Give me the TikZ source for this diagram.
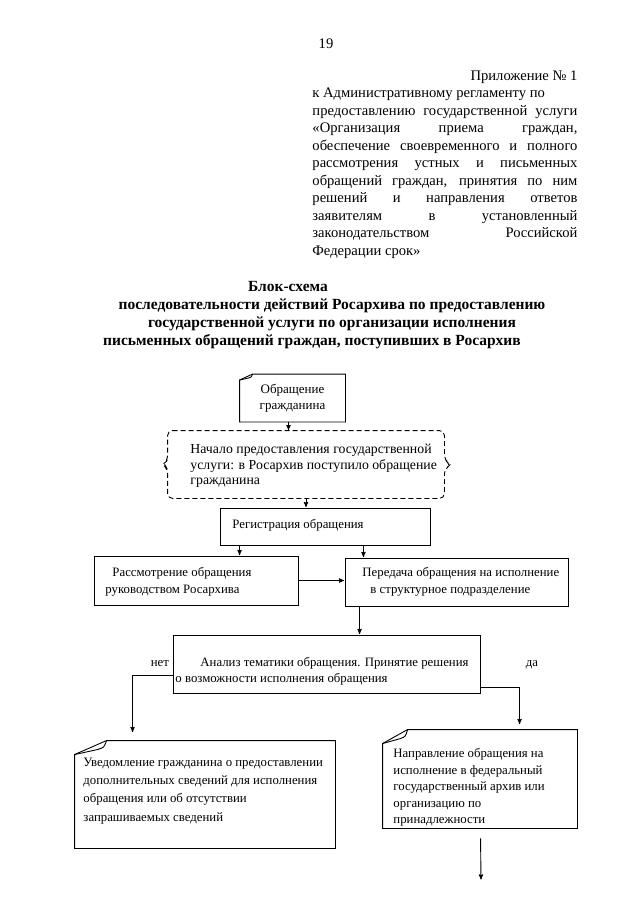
\documentclass[tikz,border=0pt]{standalone}
\usepackage{fontspec}
\setmainfont{Liberation Serif}
\usetikzlibrary{arrows,positioning,calc}
\setlength{\parindent}{0pt}
\hbadness=10000
\hyphenpenalty=10000

\newcommand{\headfont}{\fontsize{14.6}{17.5}\selectfont}
\newcommand{\titlefont}{\bfseries\fontsize{15.5}{18}\selectfont}
\newcommand{\boxfont}{\fontsize{12.8}{17}\selectfont}

% box with a folded top left corner: node, cut x, cut y
\newcommand{\notefold}[3]{%
  \draw (#1.south west) -- ([yshift=-#3]#1.north west)
        -- ([xshift=#2]#1.north west) -- (#1.north east)
        -- (#1.south east) -- cycle;
  \draw ([yshift=-#3]#1.north west)
        -- ([xshift=0.72*#2,yshift=-0.64*#3]#1.north west)
        .. controls ([xshift=0.92*#2,yshift=-0.5*#3]#1.north west)
        .. ([xshift=#2]#1.north west);
}

% dashed box with brace sides
\newcommand{\bracebox}[1]{%
  \draw[dash pattern=on 5pt off 3pt, rounded corners=5pt]
    (#1.north west) -- (#1.north east) -- ([yshift=4pt]#1.east)
    -- ([xshift=7pt]#1.east) -- ([yshift=-4pt]#1.east) -- (#1.south east)
    -- (#1.south west) -- ([yshift=-4pt]#1.west) -- ([xshift=-5pt]#1.west)
    -- ([yshift=4pt]#1.west) -- cycle;
}

\tikzset{
  box/.style={draw, rectangle, inner sep=0pt},
  hole/.style={rectangle, inner sep=0pt},
  txt/.style={anchor=north west, inner sep=0pt, align=left, font=\boxfont},
  link/.style={->, shorten >=0.5pt},
}

\begin{document}
\begin{tikzpicture}[x=1pt,y=-1pt,line width=0.9pt,>=stealth']
  \useasboundingbox (0,0) rectangle (640,905);

  % page head
  \node[anchor=base, font=\headfont] (page) at (326,48) {19};
  \node[anchor=north west, inner sep=0pt, text width=265pt, align=justify, font=\headfont] (prilozh) at (312,70)
    {\hspace*{\fill}Приложение №~1\newline
     к Административному регламенту по\newline
     предоставлению государственной услуги\linebreak
     «Организация приема граждан,\linebreak
     обеспечение своевременного и полного\linebreak
     рассмотрения устных и письменных\linebreak
     обращений граждан, принятия по ним\linebreak
     решений и направления ответов\linebreak
     заявителям в установленный\linebreak
     законодательством Российской\linebreak
     Федерации срок»};

  % title
  \node[anchor=base, font=\titlefont] (title1) at (288,291) {Блок-схема};
  \node[anchor=base, font=\titlefont] (title2) at (332,309) {последовательности действий Росархива по предоставлению};
  \node[anchor=base, font=\titlefont] (title3) at (332,327) {государственной услуги по организации исполнения};
  \node[anchor=base, font=\titlefont] (title4) at (312,345) {письменных обращений граждан, поступивших в Росархив};

  % boxes
  \node[hole, minimum width=105pt, minimum height=47pt, align=center,
        font=\fontsize{13}{16}\selectfont] (obr) at (292.5,398) {Обращение\\гражданина};
  \notefold{obr}{13pt}{6pt}

  \node[hole, minimum width=276pt, minimum height=67pt] (nachalo) at (306,464.5) {};
  \bracebox{nachalo}
  \node[txt, font=\fontsize{13.8}{15.5}\selectfont] (nachalo-t) at (190,443.6)
    {Начало предоставления государственной\\
     услуги: в Росархив поступило обращение\\
     гражданина};

  \node[box, minimum width=210pt, minimum height=37pt] (reg) at (325,526.5) {};
  \node[txt] (reg-t) at (232,519.3) {Регистрация обращения};

  \node[box, minimum width=204pt, minimum height=49pt] (rassm) at (196,580.5) {};
  \node[txt] (rassm-t) at (105,567.3)
    {\hspace*{7pt}Рассмотрение обращения\\руководством Росархива};

  \node[box, minimum width=223pt, minimum height=48pt] (pered) at (456.5,582) {};
  \node[txt] (pered-t) at (362,567.3)
    {Передача обращения на исполнение\\\hspace*{8pt}в структурное подразделение};

  \node[box, minimum width=307pt, minimum height=58pt] (analiz) at (326.5,664) {};
  \node[txt, font=\fontsize{12.8}{16}\selectfont] (analiz-t) at (175,657.3)
    {\hspace*{25pt}Анализ тематики обращения. Принятие решения\\
     о возможности исполнения обращения};
  \node[anchor=base west, font=\boxfont] (net) at (147,666) {нет};
  \node[anchor=base west, font=\boxfont] (da) at (522,666) {да};

  \node[hole, minimum width=260pt, minimum height=107pt] (uved) at (205,794.5) {};
  \notefold{uved}{32pt}{14pt}
  \node[txt, font=\fontsize{12.8}{18.3}\selectfont] (uved-t) at (83,757.3)
    {Уведомление гражданина о предоставлении\\
     дополнительных сведений для исполнения\\
     обращения или об отсутствии\\
     запрашиваемых сведений};

  \node[hole, minimum width=194pt, minimum height=98pt] (napr) at (480,779) {};
  \notefold{napr}{25pt}{14pt}
  \node[txt, font=\fontsize{12.8}{16.5}\selectfont] (napr-t) at (393,748)
    {Направление обращения на\\
     исполнение в федеральный\\
     государственный архив или\\
     организацию по\\
     принадлежности};

  \coordinate (konec) at (481,880);

  % connectors
  \draw[link] ([xshift=-4pt]obr.south) -- ([xshift=-4pt]obr.south |- nachalo.north);
  \draw[link] (nachalo.south) -- (nachalo.south |- reg.north);
  \draw[link] ([xshift=20pt]reg.south west) -- ([xshift=20pt]reg.south west |- rassm.north);
  \draw[link] ([xshift=-67pt]reg.south east) -- ([xshift=-67pt]reg.south east |- pered.north);
  \draw[link] (rassm.east) -- (rassm.east -| pered.west);
  \draw[link] ([xshift=15pt]pered.south west) -- ([xshift=15pt]pered.south west |- analiz.north);
  \draw[link] ([yshift=-11pt]analiz.west) -| ([xshift=58pt,yshift=8pt]uved.north west);
  \draw[link] ([yshift=-23pt]analiz.east) -| ([xshift=137pt,yshift=5pt]napr.north west);
  \draw[link] ([xshift=98pt,yshift=-10pt]napr.south west) -- (konec);
\end{tikzpicture}
\end{document}
